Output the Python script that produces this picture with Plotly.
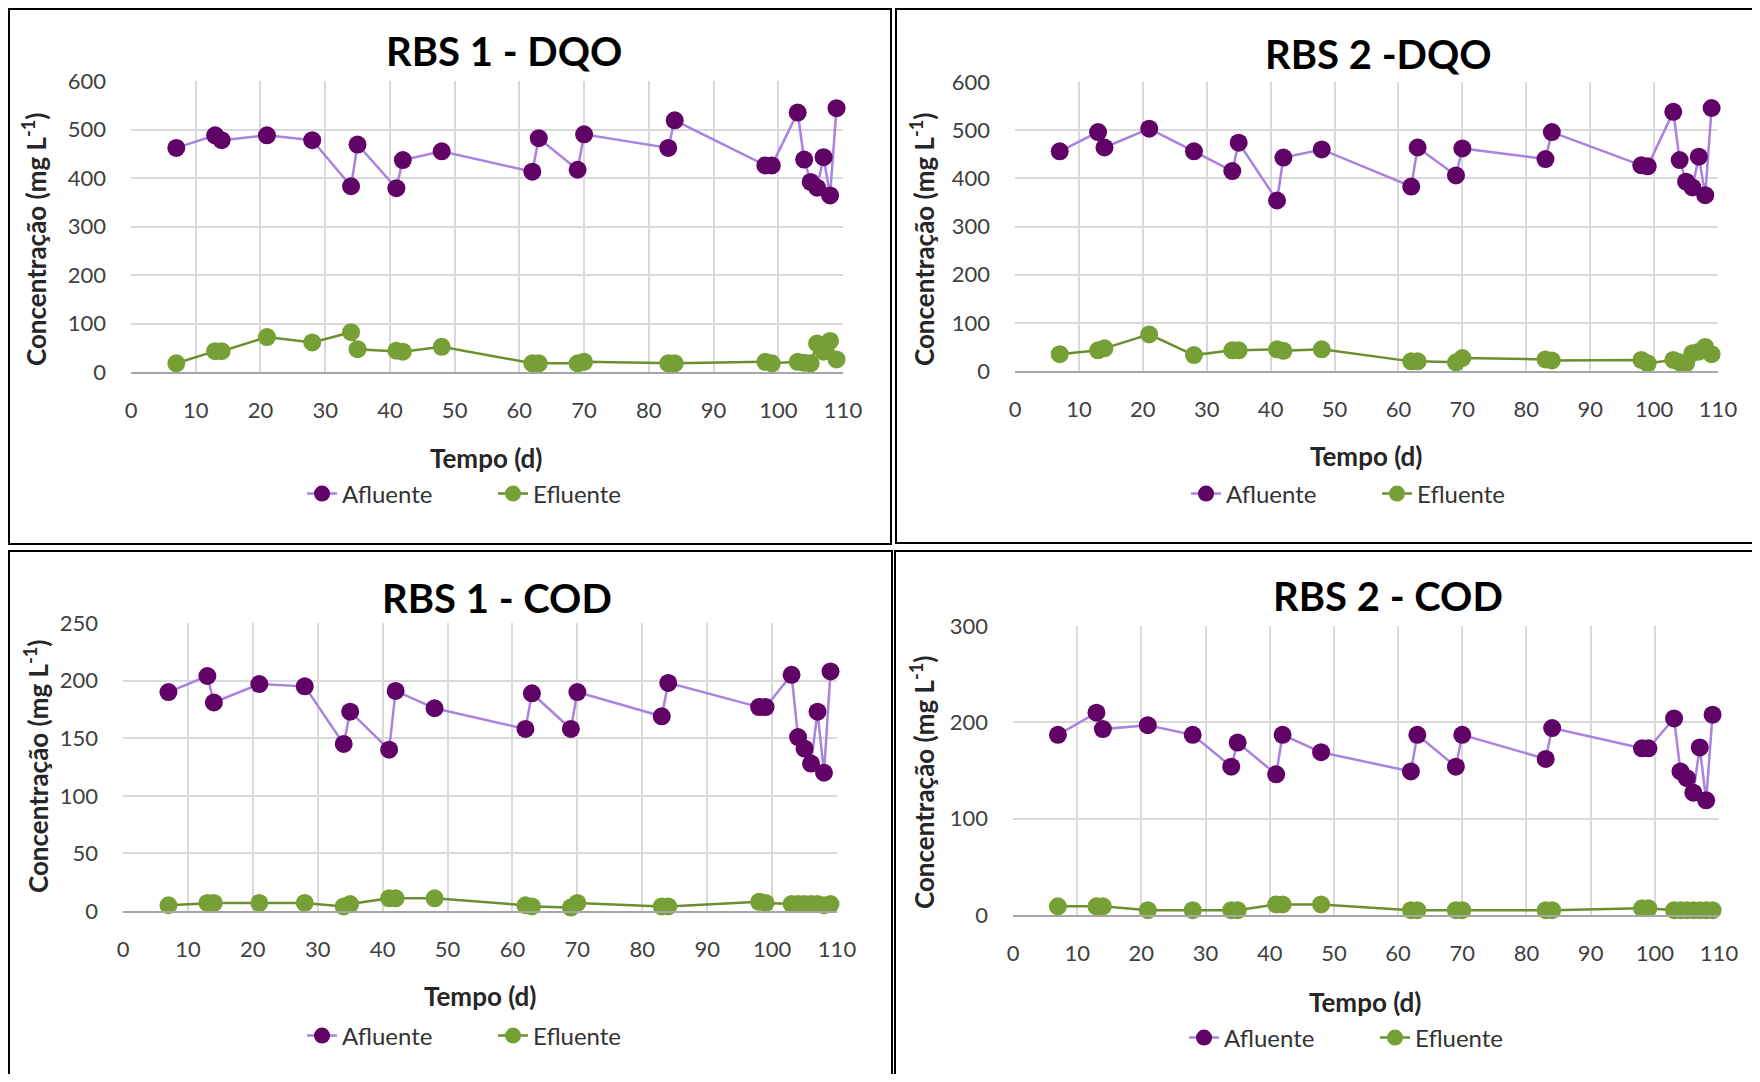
import plotly.graph_objects as go

# The page body has an 8 px margin, so the figure is drawn 8 px in from the page edge.
OFF = 8
W, H = 1760 - 2 * OFF, 1082 - 2 * OFF

days = [7, 13, 14, 21, 28, 34, 35, 41, 42, 48, 62, 63, 69, 70, 83, 84,
        98, 99, 103, 104, 105, 106, 107, 108, 109]

rbs1_dqo_afl = [462, 488, 478, 488, 478, 383, 469, 379, 437, 455, 413, 482, 417, 490, 462, 519,
                426, 426, 535, 438, 392, 380, 443, 364, 544]
rbs1_dqo_efl = [18, 43, 43, 72, 61, 82, 47, 44, 42, 52, 18, 18, 18, 21, 18, 18,
                21, 18, 21, 19, 18, 59, 42, 64, 26]

rbs2_dqo_afl = [456, 496, 464, 503, 456, 415, 474, 354, 443, 460, 383, 464, 406, 462, 440, 496,
                427, 425, 538, 438, 393, 381, 445, 365, 546]
rbs2_dqo_efl = [35, 43, 47, 76, 33, 43, 43, 45, 42, 45, 20, 20, 18, 27, 24, 22,
                23, 16, 23, 18, 16, 37, 40, 50, 35]

rbs1_cod_afl = [190, 204, 181, 197, 195, 145, 173, 140, 191, 176, 158, 189, 158, 190, 169, 198,
                177, 177, 205, 151, 141, 128, 173, 120, 208]
rbs1_cod_efl = [5, 7, 7, 7, 7, 4, 6, 11, 11, 11, 5, 4, 3, 7, 4, 4,
                8, 7, 6, 6, 6, 6, 6, 5, 6]

rbs2_cod_afl = [187, 210, 193, 197, 187, 154, 179, 146, 187, 169, 149, 187, 154, 187, 162, 194,
                173, 173, 204, 149, 142, 127, 174, 119, 208]
rbs2_cod_efl = [9, 9, 9, 5, 5, 5, 5, 11, 11, 11, 5, 5, 5, 5, 5, 5,
                7, 7, 5, 5, 5, 5, 5, 5, 5]

titles = ["RBS 1 - DQO", "RBS 2 -DQO", "RBS 1 - COD", "RBS 2 - COD"]
series_names = ["Afluente", "Efluente"]
x_ticks = list(range(0, 111, 10))
y_ranges = [(0, 600, 100), (0, 600, 100), (0, 250, 50), (0, 300, 100)]

data = [
    (rbs1_dqo_afl, rbs1_dqo_efl),
    (rbs2_dqo_afl, rbs2_dqo_efl),
    (rbs1_cod_afl, rbs1_cod_efl),
    (rbs2_cod_afl, rbs2_cod_efl),
]

# page-pixel layout (left, right, top, bottom)
areas = [(131, 843, 81, 372), (1015, 1718, 82, 371), (123, 837, 623, 911), (1013, 1719, 626, 915)]
title_pos = [(504, 51), (1378, 54), (497, 598), (1388, 596)]
xtitle_pos = [(486, 458), (1366, 456), (480, 996), (1365, 1002)]
ytitle_pos = [(34, 240), (922, 240), (36, 767), (922, 783)]
legend_pos = [(309, 494), (1193, 494), (309, 1036), (1191, 1038)]
borders = [(9, 891, 9, 544), (896, 1770, 9, 543), (9, 892, 551, 1100), (895, 1770, 551, 1100)]

FONT = "Lato"
AFL_LINE = "#a983de"
AFL_MARK = "#600266"
EFL_LINE = "#6b8f30"
EFL_MARK = "#76a035"

def px(x):
    return (x - OFF) / W

def py(y):
    return 1 - (y - OFF) / H

fig = go.Figure()
annotations = []
shapes = []
layout = {}

for i in range(4):
    n = "" if i == 0 else str(i + 1)
    xa = "x" + n
    ya = "y" + n
    lg = "legend" + n
    afl, efl = data[i]
    fig.add_trace(go.Scatter(
        x=days, y=afl, name=series_names[0], mode="lines+markers",
        line=dict(color=AFL_LINE, width=2.5),
        marker=dict(color=AFL_MARK, size=18),
        xaxis=xa, yaxis=ya, legend=lg, cliponaxis=False))
    fig.add_trace(go.Scatter(
        x=days, y=efl, name=series_names[1], mode="lines+markers",
        line=dict(color=EFL_LINE, width=2.5),
        marker=dict(color=EFL_MARK, size=18),
        xaxis=xa, yaxis=ya, legend=lg, cliponaxis=False))

    l, r, t, b = areas[i]
    y0, y1, dy = y_ranges[i]
    layout["xaxis" + n] = dict(
        domain=[px(l), px(r)], anchor=ya, range=[0, 110], automargin=False,
        tickvals=x_ticks, showgrid=True, gridcolor="#d9d9d9", gridwidth=2,
        showline=True, linecolor="#a6a6a6", linewidth=2, zeroline=False,
        ticks="", ticklabelstandoff=18,
        tickfont=dict(family=FONT, size=22, color="#404040"), fixedrange=True)
    layout["yaxis" + n] = dict(
        domain=[py(b), py(t)], anchor=xa, range=[y0, y1], automargin=False,
        tickvals=list(range(y0, y1 + 1, dy)), showgrid=True, gridcolor="#d9d9d9", gridwidth=2,
        showline=False, zeroline=False, ticks="", ticklabelstandoff=24,
        tickfont=dict(family=FONT, size=22, color="#404040"), fixedrange=True)

    lx, ly = legend_pos[i]
    layout[lg] = dict(
        orientation="h", x=px(lx) - 0.004, y=py(ly), xanchor="left", yanchor="middle",
        font=dict(family=FONT, size=24, color="#333333"), bgcolor="rgba(0,0,0,0)",
        itemsizing="trace", tracegroupgap=0, entrywidth=146, entrywidthmode="pixels")

    tx, ty = title_pos[i]
    annotations.append(dict(text="<b>" + titles[i] + "</b>", x=px(tx), y=py(ty),
                            xref="paper", yref="paper", showarrow=False,
                            xanchor="center", yanchor="middle",
                            font=dict(family=FONT, size=40, color="#000000")))
    ax_, ay_ = xtitle_pos[i]
    annotations.append(dict(text="<b>Tempo (d)</b>", x=px(ax_), y=py(ay_),
                            xref="paper", yref="paper", showarrow=False,
                            xanchor="center", yanchor="middle",
                            font=dict(family=FONT, size=26, color="#262626")))
    yx, yy = ytitle_pos[i]
    annotations.append(dict(text="<b>Concentração (mg L<sup>-1</sup>)</b>", x=px(yx), y=py(yy),
                            xref="paper", yref="paper", showarrow=False, textangle=-90,
                            xanchor="center", yanchor="middle",
                            font=dict(family=FONT, size=26, color="#262626")))
    bl, br, bt, bb = borders[i]
    shapes.append(dict(type="rect", xref="paper", yref="paper",
                       x0=px(bl), x1=px(br), y0=py(bb), y1=py(bt),
                       line=dict(color="#000000", width=2)))

fig.update_layout(
    width=W, height=H, margin=dict(l=0, r=0, t=0, b=0, autoexpand=False),
    paper_bgcolor="white", plot_bgcolor="white",
    annotations=annotations, shapes=shapes, **layout)

fig.write_html("out.html")
